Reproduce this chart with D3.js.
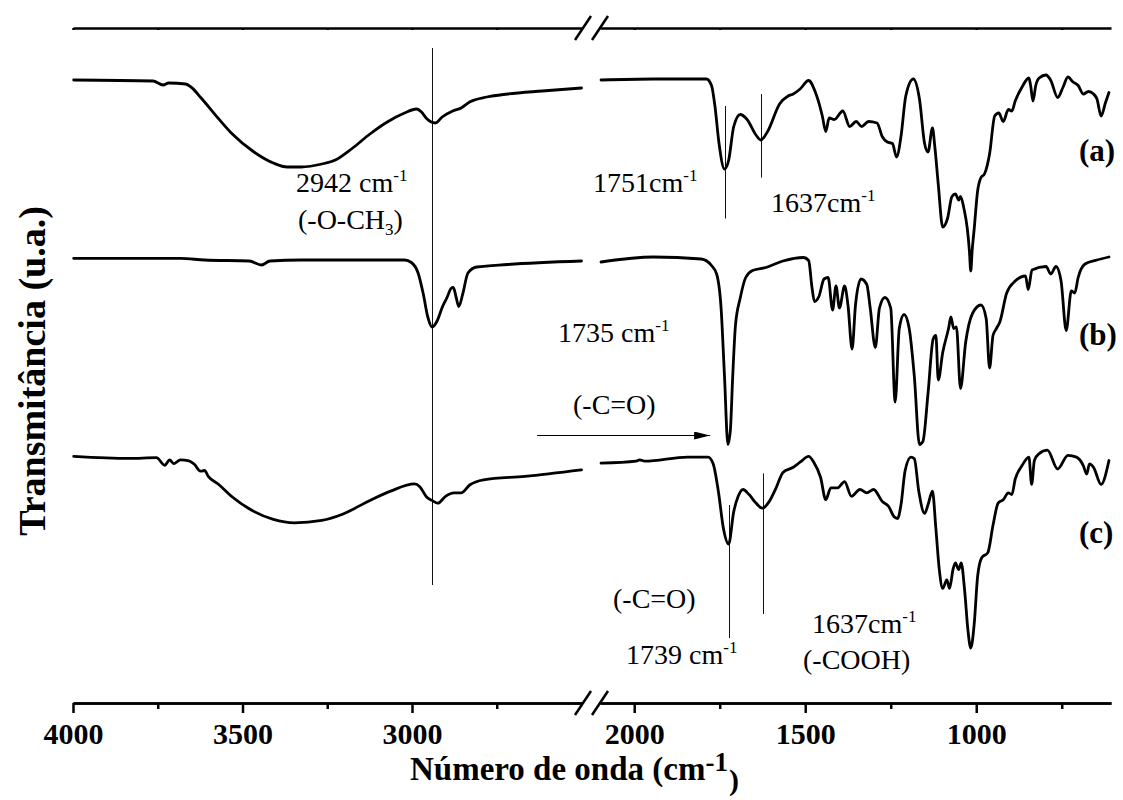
<!DOCTYPE html>
<html>
<head>
<meta charset="utf-8">
<script src="https://cdn.jsdelivr.net/npm/d3@7"></script>
<style>
  html, body { margin: 0; padding: 0; background: #fff; }
  svg { display: block; }
</style>
</head>
<body>
<svg id="chart" width="1123" height="800"></svg>
<script>
// ---------- DATA (wavenumber cm-1, transmittance u.a.) ----------
const specA_left = [[3998,623],[3764,622],[3734,618],[3718,620],[3668,619],[3652,616],[3622,605],[3571,584.5],[3530,569],[3470,552],[3409,540],[3368,536],[3327,536],[3266,539],[3226,543],[3175,555],[3124,569],[3073,581],[3022,590],[2987,594],[2972,591],[2957,584.5],[2931,580],[2911,586],[2880,592],[2855,595],[2830,601],[2779,606],[2718,609],[2616,612],[2500,615]];
const specA_right = [[2097,623],[1944,624],[1789,624],[1774,617.5],[1764,597],[1752,559.5],[1736,534],[1724,542.5],[1709,576.5],[1690,588.5],[1670,583.5],[1644,568],[1630,563],[1610,571.5],[1575,599],[1550,607],[1535,609],[1515,614],[1490,622.5],[1470,610.5],[1450,587],[1440,571.5],[1430,585],[1415,583.5],[1390,592],[1370,576.5],[1351,581.5],[1335,576.5],[1315,581.5],[1290,580],[1275,566.5],[1260,561],[1245,559.5],[1233,546],[1220,566.5],[1206,607],[1184,624],[1166,604],[1151,559.5],[1141,551],[1128,575],[1121,556],[1111,518.5],[1098,476],[1084,484.5],[1071,506.5],[1061,509],[1051,503],[1046,506.5],[1036,494.5],[1026,474],[1020,452],[1016,432],[1012,452],[1006,474],[996,512],[986,525.5],[976,529],[961,549],[946,587],[934,590],[921,581.5],[906,593.5],[896,592],[886,602],[866,616],[846,625],[841,617.5],[834,602],[826,617.5],[816,625],[796,628],[782,622.5],[762,605.5],[746,616],[732,626],[717,621],[702,617.5],[687,609],[672,611.5],[657,609],[647,604],[635,587],[622,600.5],[612,610.5]];
const specB_left = [[3998,444.6],[3683,444.6],[3612,443],[3480,442],[3444,438],[3419,442],[3327,443],[3124,443],[3022,443],[3002,440.5],[2982,430],[2967,409.5],[2953,385.5],[2941,376],[2926,382],[2911,395.5],[2896,406],[2885,414.5],[2878,415.5],[2870,406],[2862,396.5],[2850,409.5],[2835,430],[2809,436],[2718,438.5],[2500,442]];
const specB_right = [[2097,441],[1944,446],[1804,444],[1774,437.5],[1759,429],[1746,395],[1736,326.5],[1726,258.5],[1719,272],[1712,326.5],[1704,377.5],[1690,405],[1674,425.5],[1654,432.5],[1615,435.5],[1565,442],[1505,445.5],[1490,442.5],[1480,415],[1473,401.5],[1460,406.5],[1445,424],[1433,425.5],[1420,393],[1410,417],[1400,395],[1385,417],[1375,398],[1363,354],[1353,398],[1337,424],[1320,418.5],[1310,395],[1295,355.5],[1283,395],[1267,405.5],[1250,395],[1237,301],[1225,374.5],[1211,388.5],[1196,374.5],[1181,326.5],[1166,258.5],[1156,261.5],[1141,309.5],[1126,364],[1118,367.5],[1111,323],[1098,350.5],[1081,374.5],[1074,386],[1066,374.5],[1058,376],[1046,314.5],[1031,360.5],[1011,389.5],[986,398],[971,384.5],[961,335],[951,367.5],[941,374.5],[931,381],[911,410],[886,422],[856,427],[848,413.5],[837,433],[796,436.5],[782,429],[767,436.5],[752,422],[737,372.5],[722,412],[712,410],[702,425.5],[682,439],[647,443],[612,446]];
const specC_left = [[3998,246.7],[3835,244.6],[3754,245.3],[3729,237.7],[3715,243.2],[3703,239.4],[3683,243.2],[3658,242.2],[3642,238.7],[3624,231.8],[3612,232.5],[3601,226.7],[3571,218.8],[3530,206],[3470,192.2],[3409,183.6],[3347,180.2],[3266,182.6],[3205,188.8],[3124,202.6],[3063,211.9],[2992,219.1],[2977,216.3],[2957,206],[2941,202.6],[2924,199.8],[2901,206.7],[2876,210.1],[2855,210.1],[2830,218],[2789,223.2],[2667,226.7],[2500,233.2]];
const specC_right = [[2097,239.8],[1994,241.8],[1984,243.2],[1969,241.8],[1844,245.9],[1784,245.9],[1769,239.1],[1754,211.8],[1739,174.3],[1724,158.9],[1709,191.4],[1696,206.7],[1682,213.5],[1664,208.4],[1644,199.9],[1625,194.8],[1605,201.6],[1585,215.2],[1565,230.6],[1535,235.7],[1515,240.8],[1490,246.6],[1475,240.8],[1455,225.5],[1440,203.3],[1425,215.2],[1405,215.2],[1385,221.4],[1365,206.7],[1340,213.5],[1320,210.1],[1300,213.5],[1275,201.6],[1256,196.5],[1240,186.2],[1230,184.5],[1220,198.2],[1208,232.3],[1191,245.9],[1181,244.2],[1168,211.8],[1151,189.6],[1141,198.2],[1128,211.8],[1118,174.3],[1108,133.4],[1098,114.6],[1086,123.1],[1078,114.6],[1068,133.4],[1061,140.2],[1051,133.4],[1044,140.2],[1034,112.9],[1024,71.9],[1016,54.9],[1006,78.8],[996,126.5],[984,145.3],[966,150.4],[951,177.7],[936,199.9],[921,203.3],[906,210.1],[896,208.4],[886,223.8],[866,237.4],[846,245.9],[838,218.6],[830,242.5],[816,249.4],[792,252.8],[762,234],[732,247.6],[707,245.9],[687,237.4],[677,228.9],[669,239.1],[657,235.7],[635,218.6],[612,242.5]];

const tickMajorLeft = [4000, 3500, 3000];
const tickMinorLeft = [3750, 3250, 2750];
const tickMajorRight = [2000, 1500, 1000];
const tickMinorRight = [1750, 1250, 750];

// marker lines: [wavenumber, from, to]
const markLines = [[2941, 655, 118], [1736, 597, 484.5], [1630, 609, 525.4], [1724, 198, 65], [1622, 229.6, 89]];
const arrowData = { from: 2631, to: 1778, level: 268 };

// ---------- SCALES ----------
const svg = d3.select("#chart");
const xL = d3.scaleLinear().domain([4000, 2500]).range([73, 581.5]);
const xR = d3.scaleLinear().domain([2100, 606]).range([600, 1111]);
const xAny = wn => wn >= 2300 ? xL(wn) : xR(wn);
const y = d3.scaleLinear().domain([0, 678]).range([703, 25]);

const serif = "'Liberation Serif', 'Times New Roman', Times, serif";
const axisY = 703, topY = 28;

// ---------- AXES ----------
function drawAxis(scale, major, minor) {
  const gMin = svg.append("g").attr("transform", `translate(0,${axisY})`)
    .call(d3.axisBottom(scale).tickValues(minor).tickSize(6).tickSizeOuter(0).tickFormat(""));
  const gMaj = svg.append("g").attr("transform", `translate(0,${axisY})`)
    .call(d3.axisBottom(scale).tickValues(major).tickSize(10).tickSizeOuter(0).tickPadding(10).tickFormat(d3.format("d")));
  [gMin, gMaj].forEach(g => {
    g.selectAll("path, line").attr("stroke", "#000").attr("stroke-width", 2.5);
  });
  gMaj.selectAll("text").attr("font-family", serif).attr("font-weight", "bold")
    .attr("font-size", 30).attr("fill", "#000").attr("dy", "0.7em");
  const gTop = svg.append("g").attr("transform", `translate(0,${topY})`)
    .call(d3.axisTop(scale).tickValues(major.concat(minor)).tickSize(-2).tickSizeOuter(0).tickFormat(""));
  gTop.selectAll("path, line").attr("stroke", "#000").attr("stroke-width", 2.5);
}
drawAxis(xL, tickMajorLeft, tickMinorLeft);
drawAxis(xR, tickMajorRight, tickMinorRight);

// break marks
[axisY, topY].forEach(yy => {
  [xL.range()[1] + 1.5, xR.range()[0]].forEach(cx => {
    svg.append("line").attr("x1", cx - 8).attr("y1", yy + 12).attr("x2", cx + 8).attr("y2", yy - 12)
      .attr("stroke", "#000").attr("stroke-width", 2.5);
  });
});

// ---------- MARKER LINES ----------
svg.append("g").selectAll("line").data(markLines).join("line")
  .attr("x1", d => Math.round(xAny(d[0])) + 0.5).attr("x2", d => Math.round(xAny(d[0])) + 0.5)
  .attr("y1", d => y(d[1])).attr("y2", d => y(d[2]))
  .attr("stroke", "#111").attr("stroke-width", 1);

// ---------- SPECTRA ----------
function drawSpec(data, scale) {
  const line = d3.line().x(d => scale(d[0])).y(d => y(d[1])).curve(d3.curveMonotoneX);
  svg.append("path").datum(data).attr("d", line)
    .attr("fill", "none").attr("stroke", "#000").attr("stroke-width", 2.8)
    .attr("stroke-linejoin", "round").attr("stroke-linecap", "round");
}
drawSpec(specA_left, xL); drawSpec(specA_right, xR);
drawSpec(specB_left, xL); drawSpec(specB_right, xR);
drawSpec(specC_left, xL); drawSpec(specC_right, xR);

// ---------- ARROW ----------
svg.append("defs").append("marker").attr("id", "arrowhead")
  .attr("viewBox", "0 0 16 8").attr("refX", 16).attr("refY", 4)
  .attr("markerWidth", 16).attr("markerHeight", 8).attr("markerUnits", "userSpaceOnUse")
  .attr("orient", "auto")
  .append("path").attr("d", "M0,0 L16,4 L0,8 Z").attr("fill", "#000");
svg.append("line")
  .attr("x1", xAny(arrowData.from)).attr("x2", xAny(arrowData.to))
  .attr("y1", Math.round(y(arrowData.level)) + 0.5).attr("y2", Math.round(y(arrowData.level)) + 0.5)
  .attr("stroke", "#000").attr("stroke-width", 1.2).attr("marker-end", "url(#arrowhead)");

// ---------- TEXT ----------
function label(x, yy, parts, opts = {}) {
  const t = svg.append("text").attr("x", x).attr("y", yy)
    .attr("font-family", serif).attr("font-size", opts.size || 28)
    .attr("font-weight", opts.weight || "normal").attr("fill", "#000");
  let shift = 0;
  parts.forEach(p => {
    const [txt, kind] = typeof p === "string" ? [p, "n"] : p;
    let target = 0, fs = opts.size || 28;
    if (kind === "sup") { target = -11; fs = 17; }
    if (kind === "sub") { target = 6; fs = 17; }
    t.append("tspan").attr("dy", target - shift).attr("font-size", fs).text(txt);
    shift = target;
  });
  return t;
}
label(296, 192, ["2942 cm", ["-1", "sup"]]);
label(298, 229, ["(-O-CH", ["3", "sub"], ")"]);
label(593, 192, ["1751cm", ["-1", "sup"]]);
label(771, 212, ["1637cm", ["-1", "sup"]]);
label(558, 342, ["1735 cm", ["-1", "sup"]]);
label(573, 414, ["(-C=O)"]);
label(613, 608, ["(-C=O)"]);
label(626, 664, ["1739 cm", ["-1", "sup"]]);
label(812, 633, ["1637cm", ["-1", "sup"]]);
label(803, 669, ["(-COOH)"]);

label(1079, 161, ["(a)"], { size: 31, weight: "bold" });
label(1079, 345, ["(b)"], { size: 31, weight: "bold" });
label(1079, 543, ["(c)"], { size: 31, weight: "bold" });

// axis title
const title = svg.append("text").attr("x", 410).attr("y", 780)
  .attr("font-family", serif).attr("font-weight", "bold").attr("font-size", 33).attr("fill", "#000");
title.append("tspan").text("Número de onda (cm");
title.append("tspan").attr("font-size", 27).attr("dy", -9).text("-1");
title.append("tspan").attr("font-size", 30).attr("dy", 19).attr("dx", 1).text(")");

svg.append("text").attr("transform", "translate(45,371) rotate(-90)")
  .attr("text-anchor", "middle").attr("font-family", serif).attr("font-weight", "bold")
  .attr("font-size", 38).attr("fill", "#000").text("Transmitância (u.a.)");
</script>
</body>
</html>
